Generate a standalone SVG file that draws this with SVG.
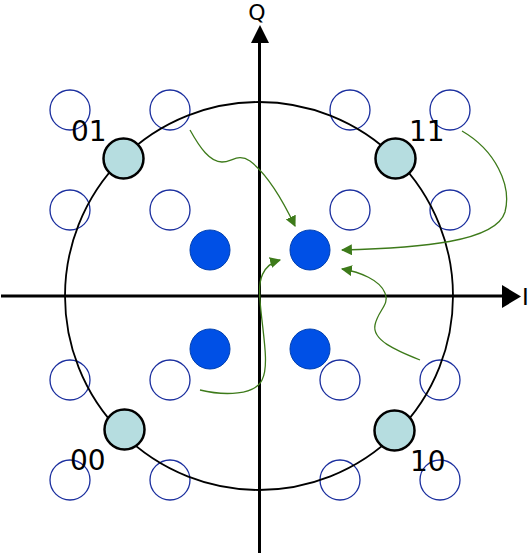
<svg xmlns="http://www.w3.org/2000/svg" width="532" height="555" viewBox="0 0 532 555">
<style>
.ax{stroke:#000;stroke-width:3;fill:none}
.open{fill:none;stroke:#1a2e9e;stroke-width:1.3}
.dot{fill:#0050e6;stroke:#0040b0;stroke-width:1}
.sym{fill:#b6dde0;stroke:#000;stroke-width:2.5}
.g{fill:none;stroke:#3d7a1a;stroke-width:1.3;marker-end:url(#ah)}
text{font-family:"DejaVu Sans","Liberation Sans",sans-serif;fill:#000}
.lbl{font-size:28px}
</style>
<defs>
<marker id="ah" viewBox="0 0 10 10" refX="9" refY="5" markerWidth="11" markerHeight="11" markerUnits="userSpaceOnUse" orient="auto">
<path d="M0,0 L10,5 L0,10 Z" fill="#3d7a1a"/>
</marker>
</defs>
<g id="grid">
<circle class="open" cx="70" cy="110" r="20"/>
<circle class="open" cx="170" cy="110" r="20"/>
<circle class="open" cx="350" cy="110" r="20"/>
<circle class="open" cx="450" cy="110" r="20"/>
<circle class="open" cx="70" cy="210" r="20"/>
<circle class="open" cx="170" cy="210" r="20"/>
<circle class="open" cx="350" cy="210" r="20"/>
<circle class="open" cx="450" cy="210" r="20"/>
<circle class="open" cx="70" cy="380" r="20"/>
<circle class="open" cx="170" cy="380" r="20"/>
<circle class="open" cx="340" cy="380" r="20"/>
<circle class="open" cx="440" cy="380" r="20"/>
<circle class="open" cx="70" cy="480" r="20"/>
<circle class="open" cx="170" cy="480" r="20"/>
<circle class="open" cx="340" cy="480" r="20"/>
<circle class="open" cx="440" cy="480" r="20"/>
</g>
<g id="axes">
<line class="ax" x1="1" y1="296" x2="504" y2="296"/>
<line class="ax" x1="259.5" y1="42" x2="259.5" y2="553"/>
<path d="M502,285 L521,296.5 L502,308 Z" fill="#000"/>
<path d="M251,43 L260,25 L269,43 Z" fill="#000"/>
<text x="257" y="20" font-size="22" text-anchor="middle">Q</text>
<text x="522" y="305" font-size="23">I</text>
</g>
<circle id="unit" cx="259" cy="296" r="194" fill="none" stroke="#000" stroke-width="1.8"/>
<g id="dots">
<circle class="dot" cx="210" cy="250" r="20"/>
<circle class="dot" cx="310" cy="250" r="20"/>
<circle class="dot" cx="210" cy="349" r="20"/>
<circle class="dot" cx="310" cy="349" r="20"/>
</g>
<g id="s01"><circle class="sym" cx="123.5" cy="158.5" r="20"/><text class="lbl" x="71" y="141">01</text></g>
<g id="s11"><circle class="sym" cx="395.5" cy="158.5" r="20"/><text class="lbl" x="409" y="141">11</text></g>
<g id="s00"><circle class="sym" cx="124.5" cy="429.5" r="20"/><text class="lbl" x="70" y="470">00</text></g>
<g id="s10"><circle class="sym" cx="394.5" cy="430.5" r="20"/><text class="lbl" x="410" y="471">10</text></g>
<g id="connectors">
<path class="g" d="M190,130 C200,148 210,162 222,162 C232,162 238,153 250,161 C270,176 285,205 295,226"/>
<path class="g" d="M462,131 C495,150 512,185 505,212 C496,242 420,248 342,250"/>
<path class="g" d="M420,360 C395,350 372,340 375,325 C378,310 390,305 385,293 C380,280 360,272 342,269"/>
<path class="g" d="M200,390 C225,396 255,395 262,380 C270,365 262,330 260,300 C258,280 262,265 280,260"/>
</g>
</svg>
